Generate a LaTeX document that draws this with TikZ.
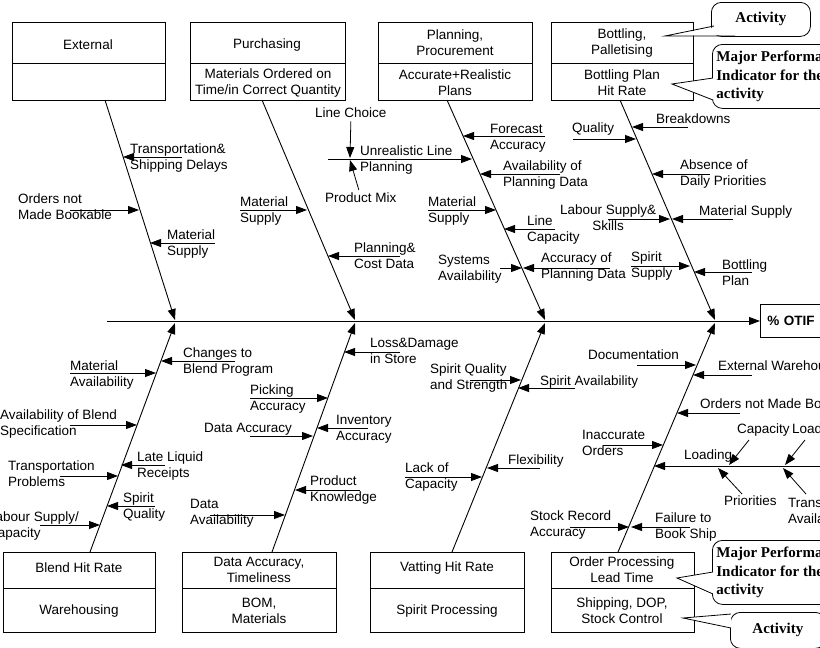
\documentclass[tikz,border=0pt]{standalone}
\usepackage{fontspec}
\setmainfont{Liberation Sans}
\newfontfamily\calfont{Liberation Serif}
\usetikzlibrary{arrows.meta}
\begin{document}
\begin{tikzpicture}[x=1pt,y=-1pt,
  lbl/.style={anchor=north west,inner sep=0pt,align=left,font=\fontsize{13.5}{16}\selectfont},
  ctr/.style={inner sep=0pt,align=center,font=\fontsize{13.5}{16}\selectfont},
  arr/.style={-{Triangle[length=11pt,width=8pt]},line width=0.8pt},
  bone/.style={line width=0.9pt},
  cal/.style={draw,rounded corners=10pt,fill=white,line width=0.8pt,inner sep=4pt,align=left,font=\calfont\bfseries\fontsize{15}{18.5}\selectfont}]
\useasboundingbox (0,0) rectangle (820,648);
\fill[white] (0,0) rectangle (820,648);
\newcommand\cz[7]{\node[lbl] (#1) at (#2,#3-7) {#4};\draw[arr] (#5,#6) -- (#7,#6);}
% top boxes
\foreach \a/\b in {12/165,190/345,378/532,551/693}{\draw[line width=0.8pt] (\a,22) rectangle (\b,100); \draw[line width=0.8pt] (\a,63)--(\b,63);}
\node[ctr] (t1) at (88,45) {External};
\node[ctr] (t2) at (267,45) {Purchasing};
\node[ctr] (t2b) at (268,83) {Materials Ordered on\\Time/in Correct Quantity};
\node[ctr] (t3) at (455,43) {Planning,\\Procurement};
\node[ctr] (t3b) at (455,83) {Accurate+Realistic\\Plans};
\node[ctr] (t4) at (622,43) {Bottling,\\Palletising};
\node[ctr] (t4b) at (622,83) {Bottling Plan\\Hit Rate};
% bottom boxes
\foreach \a/\b in {3/155,182/336,370/524,551/694}{\draw[line width=0.8pt] (\a,552) rectangle (\b,632); \draw[line width=0.8pt] (\a,588)--(\b,588);}
\node[ctr] (b1) at (79,568) {Blend Hit Rate};
\node[ctr] (b1b) at (79,611) {Warehousing};
\node[ctr] (b2) at (259,570) {Data Accuracy,\\Timeliness};
\node[ctr] (b2b) at (259,611) {BOM,\\Materials};
\node[ctr] (b3) at (447,568) {Vatting Hit Rate};
\node[ctr] (b3b) at (447,611) {Spirit Processing};
\node[ctr] (b4) at (622,570) {Order Processing\\Lead Time};
\node[ctr] (b4b) at (622,611) {Shipping, DOP,\\Stock Control};
% spine
\node[draw,line width=0.8pt,minimum height=33pt,minimum width=80pt,anchor=west,inner sep=6pt,text width=66pt,font=\bfseries\fontsize{13.5}{15}\selectfont] (otif) at (760,321) {\% OTIF};
\coordinate (sp) at (107,321);
\draw[arr] (sp) -- (otif.west);
% bones
\draw[arr,bone] (105,100) -- (175,320);
\draw[arr,bone] (262,100) -- (355,320);
\draw[arr,bone] (447,100) -- (545,320);
\draw[arr,bone] (620,100) -- (715,320);
\draw[arr,bone] (90,552) -- (175,323);
\draw[arr,bone] (272,552) -- (355,323);
\draw[arr,bone] (452,552) -- (545,323);
\draw[arr,bone] (618,552) -- (715,323);
% External
\cz{e1}{130}{151}{Transportation\&\\Shipping Delays}{182}{157}{123}
\cz{e2}{18}{201}{Orders not\\Made Bookable}{70}{210}{139}
\cz{e3}{167}{237}{Material\\Supply}{215}{243}{150}
% Purchasing
\cz{p1}{240}{204}{Material\\Supply}{240}{210}{307}
\cz{p2}{354}{250}{Planning\&\\Cost Data}{400}{256}{328}
% Planning
\cz{l1}{490}{131}{Forecast\\Accuracy}{545}{136}{463}
\cz{l2}{360}{153}{Unrealistic Line\\Planning}{328}{159}{472}
\node[lbl] (lc) at (315,108) {Line Choice};
\node[lbl] (pm) at (325,193) {Product Mix};
\draw[arr] (lc.south)++(0,3) -- (350,158);
\draw[arr] (pm.north)++(-2,-3) -- (350,160);
\cz{l3}{503}{168}{Availability of\\Planning Data}{560}{174}{480}
\cz{l4}{428}{204}{Material\\Supply}{428}{210}{496}
\cz{l5}{527}{223}{Line\\Capacity}{555}{229}{504}
\cz{l6}{438}{262}{Systems\\Availability}{500}{268}{522}
\cz{l7}{541}{260}{Accuracy of\\Planning Data}{610}{268}{523}
% Bottling
\cz{o1}{656}{121}{Breakdowns}{688}{127}{632}
\cz{o2}{572}{130}{Quality}{573}{139}{636}
\cz{o3}{680}{167}{Absence of\\Daily Priorities}{710}{174}{652}
\node[lbl,align=center] (o4) at (560,205) {Labour Supply\&\\Skills};
\draw[arr] (608,219) -- (670,219);
\cz{o5}{699}{213}{Material Supply}{733}{219}{672}
\cz{o6}{631}{259}{Spirit\\Supply}{631}{266}{690}
\cz{o7}{722}{267}{Bottling\\Plan}{752}{272}{694}
% Blend
\cz{w1}{183}{355}{Changes to\\Blend Program}{235}{361}{161}
\cz{w2}{70}{368}{Material\\Availability}{70}{373}{156}
\cz{w3}{0}{417}{Availability of Blend\\Specification}{70}{425}{137}
\cz{w4}{137}{459}{Late Liquid\\Receipts}{165}{465}{121}
\cz{w5}{8}{468}{Transportation\\Problems}{60}{476}{118}
\cz{w6}{123}{500}{Spirit\\Quality}{155}{506}{107}
\cz{w7}{-12}{519}{Labour Supply/\\Capacity}{40}{525}{100}
% Data
\cz{d1}{370}{345}{Loss\&Damage\\in Store}{400}{352}{344}
\cz{d2}{250}{392}{Picking\\Accuracy}{250}{398}{328}
\cz{d3}{336}{422}{Inventory\\Accuracy}{368}{428}{317}
\cz{d4}{204}{430}{Data Accuracy}{250}{436}{313}
\cz{d5}{310}{483}{Product\\Knowledge}{360}{490}{295}
\cz{d6}{190}{506}{Data\\Availability}{210}{515}{285}
% Vatting
\cz{v1}{430}{371}{Spirit Quality\\and Strength}{470}{380}{521}
\cz{v2}{540}{383}{Spirit Availability}{575}{388}{518}
\cz{v3}{508}{462}{Flexibility}{540}{468}{487}
\cz{v4}{405}{470}{Lack of\\Capacity}{405}{477}{482}
% Order
\cz{r1}{588}{357}{Documentation}{637}{365}{696}
\cz{r2}{718}{368}{External Warehouses}{752}{375}{693}
\cz{r3}{700}{406}{Orders not Made Bookable}{740}{413}{677}
\cz{r4}{582}{437}{Inaccurate\\Orders}{603}{445}{663}
\node[lbl] (ld) at (684,450) {Loading};
\coordinate (ldend) at (822,466);
\draw[arr] (ldend) -- (654,466);
\node[lbl] (cap) at (737,424) {Capacity};
\node[lbl] (loa) at (792,424) {Loading};
\node[lbl] (pri) at (724,496) {Priorities};
\node[lbl] (tra) at (788,498) {Transport\\Availability};
\draw[arr] (749,440) -- (729,465);
\draw[arr] (805,440) -- (785,465);
\draw[arr] (742,494) -- (718,468);
\draw[arr] (806,494) -- (783,468);
\cz{r5}{530}{518}{Stock Record\\Accuracy}{570}{527}{629}
\cz{r6}{655}{520}{Failure to\\Book Ship}{690}{527}{631}
% callouts
\node[cal,anchor=north west,minimum width=99pt,minimum height=34pt,align=center] (ca1) at (711,2) {Activity};
\fill[white] (716,27) -- (665,36) -- (735,35) -- cycle;
\draw[line width=0.8pt] (714,26) -- (665,36) -- (735,36);
\node[cal,anchor=north west,minimum width=130pt,minimum height=64pt] (ca2) at (712,44) {Major Performance\\Indicator for the\\activity};
\fill[white] (713,78) -- (672,84) -- (713,100) -- cycle;
\draw[line width=0.8pt] (713,78) -- (672,84) -- (713,100);
\node[cal,anchor=north west,minimum width=130pt,minimum height=64pt] (ca3) at (712,540) {Major Performance\\Indicator for the\\activity};
\fill[white] (713,572) -- (677,578) -- (713,594) -- cycle;
\draw[line width=0.8pt] (713,572) -- (677,578) -- (713,594);
\node[cal,anchor=north west,minimum width=95pt,minimum height=36pt,align=center] (ca4) at (730,612) {Activity};
\fill[white] (731,614) -- (683,618) -- (731,628) -- cycle;
\draw[line width=0.8pt] (731,614) -- (683,618) -- (731,628);
\end{tikzpicture}
\end{document}
